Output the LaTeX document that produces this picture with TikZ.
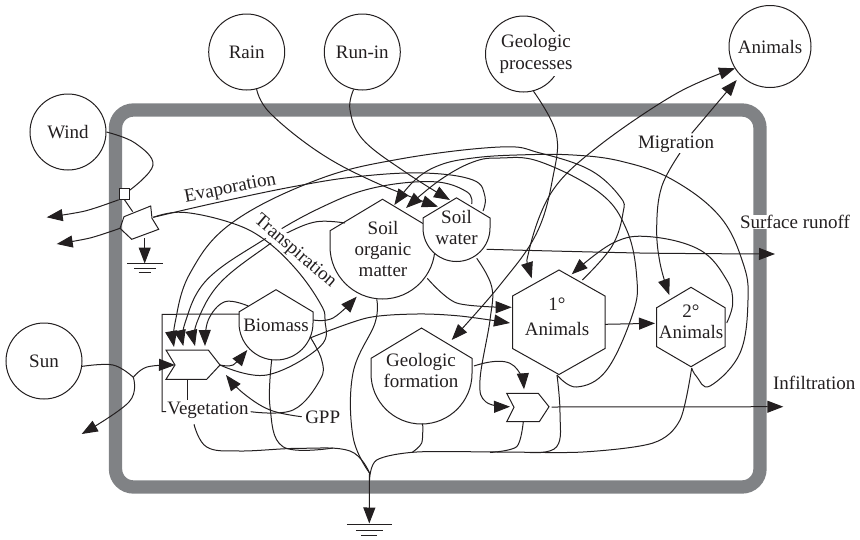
\documentclass[tikz,border=0pt]{standalone}
\usepackage{fontspec}
\setmainfont{Liberation Serif}
\usetikzlibrary{arrows.meta}
\definecolor{framegray}{HTML}{808285}
\definecolor{inkblack}{HTML}{231F20}
\tikzset{
  source/.style={circle,draw,minimum size=76pt,inner sep=0pt},
  label/.style={inner sep=0.5pt},
  wipe/.style={label,fill=white},
  flow/.style={smooth,tension=0.65},
  tank/.pic={\draw[-,fill=white] (-1,0)--(-1,-0.3)--(0,-0.9)--(1,-0.3)--(1,0) .. controls (1,0.552) and (0.552,1) .. (0,1) .. controls (-0.552,1) and (-1,0.552) .. (-1,0)--cycle;},
  ground/.pic={\draw[-] (-22.5,0)--(22.5,0) (-13.5,5.7)--(13.5,5.7) (-8,11.5)--(8,11.5);}
}
\begin{document}
\begin{tikzpicture}[x=1pt,y=-1pt,->,>={Triangle[length=16pt,width=12pt]},line width=1pt,color=inkblack,font=\fontsize{19}{21}\selectfont]
\useasboundingbox (0,0) rectangle (860,539);
\draw[-,line width=13.3pt,framegray,rounded corners=18pt] (115.5,110) rectangle (760,487);

\node[source] (wind) at (68,132) {Wind};
\node[source] (sun) at (44,361) {Sun};
\node[source] (rain) at (246.7,52) {Rain};
\node[source] (runin) at (362.3,52) {Run-in};
\node[source] (geoproc) at (523.5,54) {};
\node[source,minimum size=82pt] (animals) at (770,46.5) {Animals};
\node[draw,fill=white,minimum size=10.5pt,inner sep=0pt] (box) at (124.5,194) {};

\draw[-] (124,216.7)--(150.7,206)--(152,218.3)--(158.7,229.3)--(131.7,239.3)--(120,228.3)--cycle;
\draw[-] (166,350)--(208.3,350)--(220,365)--(206.7,379.3)--(166,379.3)--(175,365)--cycle;
\draw[-] (506.7,393.3)--(538.3,393.3)--(549,406.7)--(539.3,421.7)--(506.7,421.7)--(514,407.3)--cycle;
\draw[-] (559,270)--(605,296)--(605,348.5)--(559,374.5)--(512.5,348.5)--(512.5,296)--cycle;
\draw[-] (691,287.3)--(725,307.7)--(725,346.7)--(691,366.7)--(656.7,346.7)--(656.7,307.7)--cycle;
\pic[scale=37] at (276,323) {tank};
\pic[scale=50.5] at (421.5,373.5) {tank};
\pic[scale=52.5] at (382.5,246.5) {tank};
\pic[scale=33.5] at (456.5,228) {tank};
\pic at (369.3,524.3) {ground};
\pic[scale=0.8] at (145,263.7) {ground};

\coordinate (swtopa) at (483,211);
\coordinate (swtopb) at (471.7,204);
\coordinate (swbot) at (476.7,258.3);
\coordinate (swright) at (486.7,249.3);
\coordinate (swlefttip) at (438,206.7);
\coordinate (swtoptip) at (450,200);
\coordinate (somroof) at (345,223);
\coordinate (sombot) at (376.7,299.3);
\coordinate (somright) at (427.3,278.3);
\coordinate (somtipa) at (394.3,205);
\coordinate (somtipb) at (406,208);
\coordinate (somtipc) at (356.7,296.7);
\coordinate (bioroof) at (248.3,306);
\coordinate (bioright) at (313.3,320);
\coordinate (biolow) at (310,338);
\coordinate (biobot) at (271.7,360);
\coordinate (biotip) at (247.3,350);
\coordinate (bioleft) at (239.3,314);
\coordinate (biovegend) at (310,336.7);
\coordinate (gatetipa) at (174,347);
\coordinate (gatetipb) at (183.3,346);
\coordinate (gatetipc) at (195,346);
\coordinate (gatetipd) at (205,346);
\coordinate (gatewest) at (175,365);
\coordinate (gateeast) at (220,365);
\coordinate (gatelow) at (187.7,379.3);
\coordinate (gatetipe) at (226,375);
\coordinate (cornertop) at (162,314.3);
\coordinate (cornerlow) at (162,411.7);
\coordinate (pentleft) at (120,228.3);
\coordinate (pentnotch) at (153.3,217.3);
\coordinate (pentbot) at (144.7,238);
\coordinate (penttop) at (132.7,211.7);
\coordinate (windtip) at (46.7,217.3);
\coordinate (penttip) at (56.7,244);
\coordinate (sunsplit) at (133.3,377.3);
\coordinate (suntip) at (81.7,434);
\coordinate (grounda) at (369.5,473);
\coordinate (groundb) at (369.5,480);
\coordinate (groundtip) at (369.3,523.5);
\coordinate (groundpen) at (144.7,263.5);
\coordinate (geobot) at (422.7,423.7);
\coordinate (georight) at (474,366);
\coordinate (geotip) at (451.7,340);
\coordinate (gatetop) at (524,389.3);
\coordinate (gatelowwest) at (510,406.7);
\coordinate (gatelowbot) at (523.3,421.7);
\coordinate (gatelowe) at (551.7,407);
\coordinate (infiltip) at (783.3,406.7);
\coordinate (runofftip) at (775,254);
\coordinate (firstbot) at (557,375);
\coordinate (firsttopa) at (582.3,280);
\coordinate (firsttipa) at (531.7,278.3);
\coordinate (firsttipb) at (571.7,274.3);
\coordinate (firsttipc) at (511.7,307.3);
\coordinate (firsttipd) at (510,323);
\coordinate (firstright) at (605,324.3);
\coordinate (secondleft) at (655,323.3);
\coordinate (secondright) at (726.7,323);
\coordinate (secondbot) at (691.7,368);
\coordinate (secondtip) at (669.3,295);
\coordinate (animalstipa) at (735,68.3);
\coordinate (animalstipb) at (736.7,80);
\coordinate (midup) at (691.7,133.3);
\coordinate (midlow) at (680,153);
\coordinate (vegbot) at (194,424.3);
\coordinate (vegeast) at (250.7,411.7);
\coordinate (gppwest) at (301.7,416.7);

% wind and sun
\draw[-] plot[flow] coordinates {(wind.east) (135,143) (153,165) (130,190)};
\draw plot[flow,tension=0.5] coordinates {(box.south west) (85,211) (windtip)};
\draw[-] (box.south)--(penttop);
\draw plot[flow,tension=0.5] coordinates {(pentleft) (90,238) (penttip)};
\draw (pentbot)--(groundpen);
\draw[-] plot[flow] coordinates {(sun.-8) (113,365) (sunsplit)};
\draw plot[flow] coordinates {(sunsplit) (147,367) (gatewest)};
\draw plot[flow] coordinates {(sunsplit) (129,402) (suntip)};
\draw plot[flow,tension=0.5] coordinates {(gateeast) (233,365) (biotip)};

% rain, run-in
\draw plot[flow] coordinates {(rain.-75) (270,113) (320,153) (376.7,183) (swlefttip)};
\draw plot[flow] coordinates {(runin.-103) (350,110) (363.3,140) (406.7,173) (swtoptip)};

% evaporation and transpiration
\draw[-] plot[flow] coordinates {(pentnotch) (215,203) (293,186.7) (356.7,176.7) (423,173) (473,180) (485,196.7) (swtopa)};
\draw[-] plot[flow] coordinates {(pentnotch) (183,212.3) (231.7,223) (265,240) (296.7,270) (320,303) (325,320) (320,346.7) (266.7,375) (gateeast)};

% into vegetation
\draw plot[flow] coordinates {(firsttopa) (611.7,246.7) (623,213) (620,196.7) (590,170) (540,153) (500,147) (400,159) (316.7,180) (231.7,223) (190,273.3) (175,323) (gatetipa)};
\draw plot[flow] coordinates {(swtopb) (466.7,191.7) (433,181.7) (373,188) (320,208) (263.3,240) (206.7,280) (185,323) (gatetipb)};
\draw plot[flow] coordinates {(somroof) (316.7,221.7) (288.3,232.3) (268.3,245) (220,283) (196.7,323) (gatetipc)};
\draw plot[flow] coordinates {(bioroof) (225,301.7) (208.3,320) (gatetipd)};

\draw[-] (bioleft)--(cornertop)--(cornerlow)--(166,411.7);
\draw[-] (gatelow)--(187.7,400);
\draw[-] plot[flow] coordinates {(vegeast) (293,410) (320,380) (321.7,360) (biovegend)};
\draw plot[flow] coordinates {(gppwest) (270,410) (243,393) (gatetipe)};

% out of the storages
\draw plot[flow] coordinates {(bioright) (333,318) (somtipc)};
\draw plot[flow,tension=0.5] coordinates {(biolow) (366.7,318) (416.7,314) (460,316) (firsttipd)};
\draw plot[flow,tension=0.5] coordinates {(somright) (456.7,303) (firsttipc)};
\draw plot[flow,tension=0.5] coordinates {(swright) (640,253) (runofftip)};
\draw plot[flow] coordinates {(swbot) (491.7,286.7) (490,320) (480,380) (486,402) (gatelowwest)};
\draw plot[flow] coordinates {(geoproc.-75) (556,133) (553,176.7) (536.7,233) (500,285) (geotip)};
\draw plot[flow,tension=0.9] coordinates {(georight) (510,363.3) (gatetop)};
\draw (gatelowe)--(infiltip);
\draw (firstright)--(secondleft);

% animals
\draw[<->] plot[flow,tension=0.6] coordinates {(firsttipa) (530,246.7) (553,190) (600,145) (676.7,93.3) (animalstipa)};
\draw plot[flow] coordinates {(midlow) (661.7,186.7) (656.7,226.7) (660,263) (secondtip)};
\draw[<-] (animalstipb)--(midup);
\draw plot[flow] coordinates {(secondright) (732.7,303) (726.7,280) (700,250) (650,236.7) (613,243) (firsttipb)};
\draw plot[flow] coordinates {(secondbot) (696.7,376.7) (710,386) (740,353) (748,300) (743,263) (720,216.7) (673,180) (623,161.7) (573,155) (516.7,155) (473,158) (440,165) (415,180) (somtipa)};
\draw plot[flow] coordinates {(firstbot) (576.7,387) (606.7,370) (633,313) (636.7,276.7) (626.7,230) (600,193) (540,161.7) (500,158) (473,162) (440,180) (somtipb)};

% to the heat sink
\draw[-] plot[flow] coordinates {(vegbot) (206.7,447) (240,451) (300,448.3) (350,451) (grounda)};
\draw[-] plot[flow] coordinates {(biobot) (270,406.7) (283,446.7) (333,448)};
\draw[-] plot[flow] coordinates {(sombot) (375,323) (353,373) (353,436.7) (grounda)};
\draw[-] plot[flow,tension=0.5] coordinates {(groundb) (376.7,460) (416.7,452) (500,452) (583,452) (653,443) (680,420) (secondbot)};
\draw[-] plot[flow,tension=0.5] coordinates {(geobot) (421.7,443) (412,452.5)};
\draw[-] plot[flow,tension=0.5] coordinates {(gatelowbot) (516.7,446.7) (490,452.5)};
\draw[-] plot[flow,tension=0.7] coordinates {(firstbot) (560,413) (556.7,446.7) (530,452.5)};
\draw (grounda)--(groundtip);

\node[wipe] (geolabel) at (536,54) {\begin{tabular}{@{}c@{}}Geologic\\[1pt]processes\end{tabular}};
\node[label] (somlabel) at (383,251) {\begin{tabular}{@{}c@{}}Soil\\[0pt]organic\\[0pt]matter\end{tabular}};
\node[label] (swlabel) at (456.5,230) {\begin{tabular}{@{}c@{}}Soil\\[0pt]water\end{tabular}};
\node[label] (biolabel) at (276,325) {Biomass};
\node[label] (geolabeltwo) at (421,373) {\begin{tabular}{@{}c@{}}Geologic\\[0pt]formation\end{tabular}};
\node[label] (firstlabel) at (557,319) {\begin{tabular}{@{}c@{}}1°\\[4pt]Animals\end{tabular}};
\node[label] (secondlabel) at (691,324) {\begin{tabular}{@{}c@{}}2°\\[0pt]Animals\end{tabular}};
\node[wipe] (veglabel) at (208,410) {Vegetation};
\node[wipe] (gpplabel) at (322.7,417.7) {GPP};
\node[label,rotate=11] (evaplabel) at (230.3,189) {Evaporation};
\node[wipe,rotate=-40.6] (translabel) at (295,251.7) {Transpiration};
\node[wipe] (miglabel) at (676,144.3) {Migration};
\node[wipe] (runofflabel) at (795,222) {Surface runoff};
\node[label] (infillabel) at (814.3,383.3) {Infiltration};
\end{tikzpicture}
\end{document}
